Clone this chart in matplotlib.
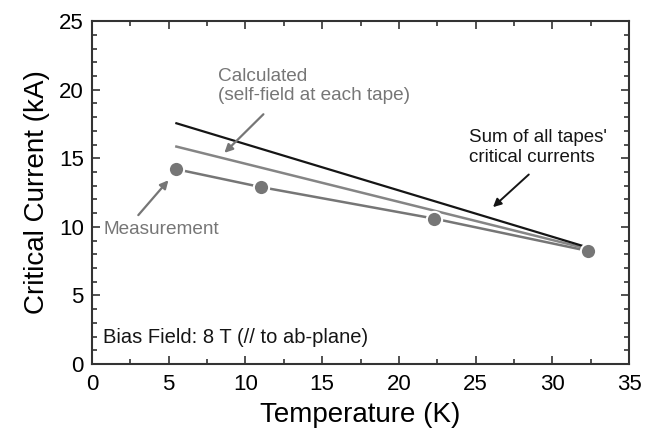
import numpy as np
import matplotlib
matplotlib.use('Agg')
import matplotlib.pyplot as plt
from matplotlib.ticker import MultipleLocator

plt.rcParams['font.family'] = ['Liberation Sans', 'DejaVu Sans']

# data
sum_T = [5.5, 32.3]
sum_Ic = [17.55, 8.5]
calc_T = [5.5, 32.3]
calc_Ic = [15.85, 8.4]
meas_T = [5.5, 11.0, 22.3, 32.3]
meas_Ic = [14.2, 12.9, 10.6, 8.25]

gray = '#767676'

fig = plt.figure(figsize=(6.58, 4.30), dpi=100)
ax = fig.add_axes([0.1398, 0.1535, 0.8162, 0.7975])

ax.plot(sum_T, sum_Ic, color='#151515', lw=1.6, zorder=3)
ax.plot(calc_T, calc_Ic, color='#858585', lw=1.8, zorder=2)
ax.plot(meas_T, meas_Ic, color=gray, lw=1.8, marker='o', ms=11,
        mfc=gray, mec='white', mew=1.5, zorder=4)

ax.set_xlim(0, 35)
ax.set_ylim(0, 25)
ax.xaxis.set_major_locator(MultipleLocator(5))
ax.xaxis.set_minor_locator(MultipleLocator(2.5))
ax.yaxis.set_major_locator(MultipleLocator(5))
ax.yaxis.set_minor_locator(MultipleLocator(1))
ax.tick_params(which='both', direction='in', top=True, right=True,
               color='#333333', width=1.2)
ax.tick_params(which='major', length=6, labelsize=16)
ax.tick_params(axis='x', which='major', pad=7)
ax.tick_params(axis='y', which='major', pad=6)
ax.tick_params(which='minor', length=3.5)
for s in ax.spines.values():
    s.set_linewidth(1.5)
    s.set_color('#333333')

ax.set_xlabel('Temperature (K)', fontsize=20, labelpad=5)
ax.set_ylabel('Critical Current (kA)', fontsize=20, labelpad=6)

arrow_gray = dict(arrowstyle='-|>', color=gray, lw=1.6, mutation_scale=12)
arrow_blk = dict(arrowstyle='-|>', color='#151515', lw=1.4, mutation_scale=12)

ax.annotate('', xy=(8.5, 15.25), xytext=(11.3, 18.35), arrowprops=arrow_gray)
ax.text(8.2, 21.6, 'Calculated\n(self-field at each tape)', fontsize=13.7,
        color=gray, ha='left', va='top', linespacing=1.2)

ax.annotate('', xy=(26.0, 11.3), xytext=(28.6, 13.95), arrowprops=arrow_blk)
ax.text(24.6, 17.1, "Sum of all tapes'\ncritical currents", fontsize=13.5,
        color='#151515', ha='left', va='top', linespacing=1.2)

ax.annotate('', xy=(5.1, 13.55), xytext=(2.9, 10.7), arrowprops=arrow_gray)
ax.text(0.75, 9.8, 'Measurement', fontsize=13.7, color=gray, ha='left',
        va='center')

ax.text(0.75, 1.95, 'Bias Field: 8 T (// to ab-plane)', fontsize=14.5,
        color='#151515', ha='left', va='center')

fig.savefig('out.png', dpi=100)
